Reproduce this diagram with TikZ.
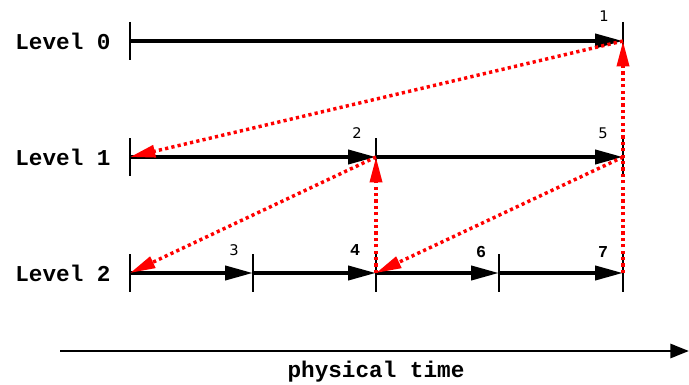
\documentclass[tikz,border=0pt]{standalone}
\usepackage{fontspec}
\newfontfamily\monofont{Liberation Mono}
\newfontfamily\numfont{DejaVu Sans}
\usetikzlibrary{arrows.meta}
\begin{document}
\begin{tikzpicture}[x=0.75pt,y=-0.75pt,
  lvl/.style={font=\monofont\bfseries\fontsize{17}{20}\selectfont, anchor=center, inner sep=0pt},
  num/.style={font=\numfont\fontsize{11}{13}\selectfont, inner sep=0pt},
  numb/.style={font=\monofont\bfseries\fontsize{12.5}{14}\selectfont, inner sep=0pt},
  tick/.style={line width=0.9pt},
  flow/.style={line width=3pt, -{Triangle[length=21pt,width=10.5pt]}},
  msg/.style={red, line width=2.6pt, dash pattern=on 2.4pt off 2.4pt, -{Triangle[length=19pt,width=9pt]}},
  timeax/.style={line width=2.2pt, -{Triangle[length=14pt,width=10.5pt]}}]
\useasboundingbox (0,0) rectangle (689,385);
% points
\coordinate (a0) at (130,41);  \coordinate (e0) at (623,41);
\coordinate (a1) at (130,157); \coordinate (c1) at (376,157); \coordinate (e1) at (623,157);
\coordinate (a2) at (130,273); \coordinate (b2) at (253,273); \coordinate (c2) at (376,273);
\coordinate (d2) at (499,273); \coordinate (e2) at (623,273);
% ticks
\foreach \p in {a0,e0,a1,c1,e1,a2,b2,c2,d2,e2}
  \draw[tick] ([yshift=19*0.75pt]\p) -- ([yshift=-19*0.75pt]\p);
% level labels
\node[lvl] (L0) at (63,41) {Level 0};
\node[lvl] (L1) at (63,157) {Level 1};
\node[lvl] (L2) at (63,273) {Level 2};
% flows
\draw[flow] (a0) -- (e0);
\draw[flow] (a1) -- (c1);
\draw[flow] (c1) -- (e1);
\draw[flow] (a2) -- (b2);
\draw[flow] (b2) -- (c2);
\draw[flow] (c2) -- (d2);
\draw[flow] (d2) -- (e2);
% numbers
\node[num] (n1) at (604,16) {1};
\node[num] (n2) at (357,133) {2};
\node[num] (n5) at (603,133) {5};
\node[num] (n3) at (234,250) {3};
\node[numb] (n4) at (355,250) {4};
\node[numb] (n6) at (481,252) {6};
\node[numb] (n7) at (603,252) {7};
% messages
\draw[msg] (e0) -- (a1);
\draw[msg] (c1) -- (a2);
\draw[msg] (c2) -- (c1);
\draw[msg] (e1) -- (c2);
\draw[msg] (e2) -- (e0);
% physical time
\coordinate (t0) at (60,351);
\coordinate (t1) at (689,351);
\draw[timeax] (t0) -- (t1);
\node[lvl] (pt) at (376,372) {physical time};
\end{tikzpicture}
\end{document}
